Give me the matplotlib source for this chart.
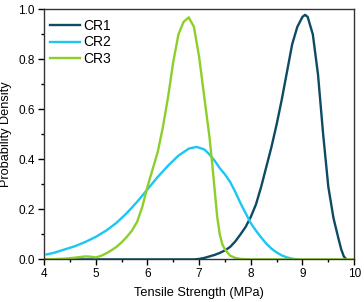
import matplotlib
matplotlib.use("Agg")
import matplotlib.pyplot as plt
from matplotlib.ticker import MultipleLocator, FormatStrFormatter

plt.rcParams['font.family'] = ['Liberation Sans', 'DejaVu Sans']

cr1_x = [4.0, 6.9, 7.0, 7.1, 7.2, 7.3, 7.4, 7.5, 7.6, 7.7, 7.8, 7.9, 8.0, 8.1, 8.2, 8.3, 8.4, 8.5,
         8.6, 8.7, 8.8, 8.9, 9.0, 9.05, 9.1, 9.2, 9.3, 9.4, 9.5, 9.6, 9.7, 9.75, 9.8, 9.85]
cr1_y = [0.0, 0.0, 0.002, 0.006, 0.012, 0.018, 0.026, 0.036, 0.05, 0.072, 0.1, 0.13, 0.17, 0.22, 0.29,
         0.37, 0.45, 0.54, 0.64, 0.75, 0.86, 0.93, 0.97, 0.978, 0.97, 0.9, 0.74, 0.5, 0.29, 0.165,
         0.08, 0.04, 0.012, 0.0]

cr2_x = [4.05, 4.2, 4.4, 4.6, 4.8, 5.0, 5.2, 5.4, 5.6, 5.8, 6.0, 6.2, 6.4, 6.6, 6.8, 6.95, 7.1, 7.2,
         7.3, 7.4, 7.5, 7.6, 7.7, 7.8, 7.9, 8.0, 8.1, 8.2, 8.3, 8.4, 8.5, 8.6, 8.7, 8.8, 8.9]
cr2_y = [0.02, 0.027, 0.04, 0.053, 0.07, 0.09, 0.115, 0.146, 0.185, 0.23, 0.28, 0.33, 0.375, 0.415,
         0.443, 0.45, 0.44, 0.42, 0.395, 0.365, 0.34, 0.31, 0.27, 0.225, 0.185, 0.145, 0.115, 0.088,
         0.063, 0.043, 0.028, 0.016, 0.008, 0.003, 0.0]

cr3_x = [4.0, 4.4, 4.6, 4.8, 4.9, 5.0, 5.1, 5.2, 5.3, 5.4, 5.5, 5.6, 5.7, 5.8, 5.9, 6.0, 6.1, 6.2,
         6.3, 6.4, 6.5, 6.6, 6.7, 6.8, 6.9, 7.0, 7.1, 7.2, 7.25, 7.3, 7.35, 7.4, 7.45, 7.5, 7.6,
         7.7, 7.8, 8.0, 10.0]
cr3_y = [0.0, 0.003, 0.007, 0.012, 0.011, 0.008, 0.014, 0.024, 0.036, 0.05, 0.068, 0.09, 0.115,
         0.15, 0.21, 0.29, 0.36, 0.43, 0.53, 0.65, 0.79, 0.9, 0.95, 0.968, 0.93, 0.81, 0.65, 0.49,
         0.39, 0.28, 0.17, 0.1, 0.06, 0.04, 0.015, 0.006, 0.002, 0.0, 0.0]

series = [("CR1", cr1_x, cr1_y, "#0d4a63"),
          ("CR2", cr2_x, cr2_y, "#1cc6f2"),
          ("CR3", cr3_x, cr3_y, "#8ccf2b")]

fig = plt.figure(figsize=(3.64, 3.02), dpi=100)
ax = fig.add_axes([0.121, 0.141, 0.852, 0.828])
for name, xs, ys, c in series:
    ax.plot(xs, ys, color=c, lw=1.7, label=name, solid_joinstyle='round')

ax.set_xlim(4, 10)
ax.set_ylim(0, 1.0)
ax.xaxis.set_major_locator(MultipleLocator(1))
ax.xaxis.set_minor_locator(MultipleLocator(0.5))
ax.yaxis.set_major_locator(MultipleLocator(0.2))
ax.yaxis.set_minor_locator(MultipleLocator(0.1))
ax.yaxis.set_major_formatter(FormatStrFormatter('%.1f'))
ax.tick_params(which='major', direction='out', length=4, width=1, labelsize=8.5, pad=2.5)
ax.tick_params(which='minor', direction='out', length=2, width=1)
for s in ax.spines.values():
    s.set_linewidth(1.0)
    s.set_color('#333333')
ax.set_xlabel("Tensile Strength (MPa)", fontsize=9.2, labelpad=5)
ax.set_ylabel("Probability Density", fontsize=9.2)
ax.yaxis.set_label_coords(-0.103, 0.5)
ax.legend(loc='upper left', bbox_to_anchor=(0.0, 0.985), frameon=False, fontsize=10,
          handlelength=2.2, borderaxespad=0.0, labelspacing=0.2, handletextpad=0.25)
fig.savefig("out.png", dpi=100)
